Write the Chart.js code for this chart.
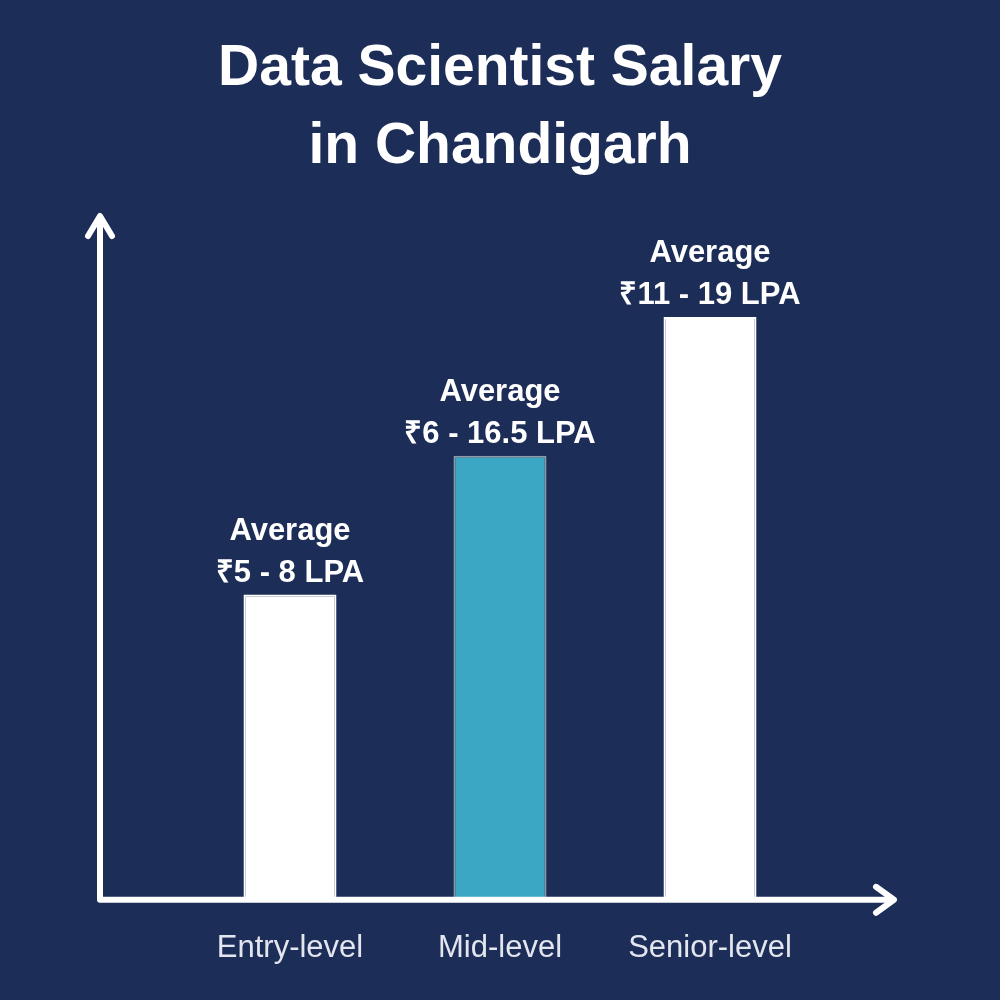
<!DOCTYPE html>
<html><head><meta charset="utf-8">
<script src="https://cdn.jsdelivr.net/npm/chart.js@4"></script>
<style>html,body{margin:0;padding:0;background:#1c2d57;}canvas{display:block}</style>
</head><body>
<div style="width:1000px;height:1000px"><canvas id="c"></canvas></div>
<script>
const categories = ["Entry-level", "Mid-level", "Senior-level"];
const barHeights = [5.5, 8, 10.5];
const rangeLabels = ["₹5 - 8 LPA", "₹6 - 16.5 LPA", "₹11 - 19 LPA"];
const titleLines = ["Data Scientist Salary", "in Chandigarh"];

const deco = {
  id: 'deco',
  beforeDraw(chart) {
    const c = chart.ctx;
    c.save(); c.fillStyle = '#1c2d57'; c.fillRect(0,0,chart.width,chart.height); c.restore();
  },
  afterDatasetsDraw(chart) {
    const c = chart.ctx, a = chart.chartArea;
    c.save();
    c.strokeStyle = '#fff'; c.lineWidth = 6; c.lineCap = 'round'; c.lineJoin = 'round';
    const ox = 100, oy = a.bottom;
    c.beginPath(); c.moveTo(ox, oy); c.lineTo(ox, 218); c.moveTo(ox, oy); c.lineTo(892, oy); c.stroke();
    c.beginPath(); c.moveTo(88, 236); c.lineTo(ox, 216); c.lineTo(112, 236); c.stroke();
    c.beginPath(); c.moveTo(876, oy-13); c.lineTo(894, oy); c.lineTo(876, oy+13); c.stroke();
    c.fillStyle = '#fff'; c.textAlign = 'center';
    c.font = 'bold 57px "Liberation Sans", Arial, sans-serif';
    c.fillText(titleLines[0], 500, 85);
    c.fillText(titleLines[1], 500, 163);
    c.font = 'bold 31px "Liberation Sans", Arial, sans-serif';
    chart.getDatasetMeta(0).data.forEach((b, i) => {
      c.fillText('Average', b.x, b.y - 55);
      c.fillText(rangeLabels[i], b.x, b.y - 13);
    });
    c.restore();
  }
};

new Chart(document.getElementById('c'), {
  type: 'bar',
  data: { labels: categories, datasets: [{
    data: barHeights,
    backgroundColor: ['#ffffff', '#3ba7c4', '#ffffff'],
    borderColor: ['#ffffff', '#8a9aa6', '#ffffff'],
    borderWidth: 2,
    barPercentage: 0.443, categoryPercentage: 1
  }]},
  options: {
    responsive: true, maintainAspectRatio: false, animation: false,
    devicePixelRatio: 1,
    layout: { padding: { left: 185, right: 185, top: 220, bottom: 11 } },
    plugins: { legend: { display: false }, tooltip: { enabled: false } },
    scales: {
      y: { display: false, min: 0, max: 12.25 },
      x: { grid: { display: false }, border: { display: false },
           ticks: { color: '#e3e6ee', padding: 22, font: { size: 31, family: '"Liberation Sans", Arial, sans-serif' } } }
    }
  },
  plugins: [deco]
});
</script>
</body></html>
